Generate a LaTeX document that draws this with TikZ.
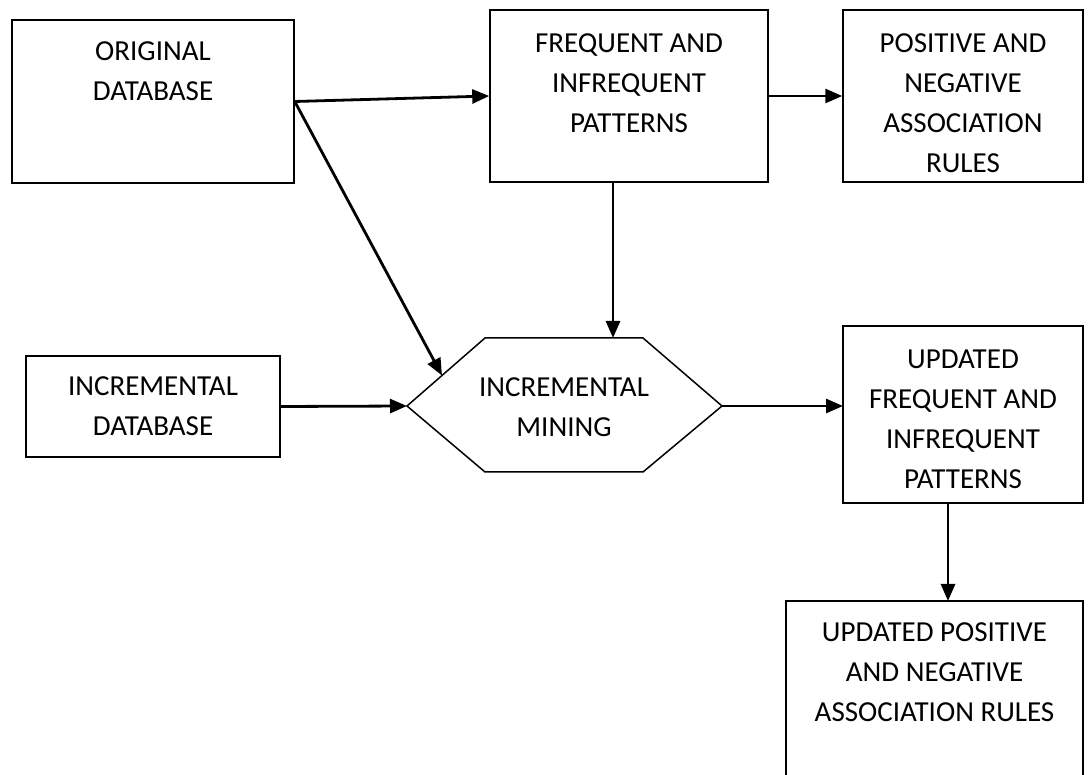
\documentclass[tikz,border=0pt]{standalone}
\usepackage{fontspec}
\setmainfont{Carlito}
\usetikzlibrary{arrows.meta}
\begin{document}
\begin{tikzpicture}[x=1pt,y=-1pt,
  box/.style={draw=black, line width=1.5pt, inner sep=0pt},
  lbl/.style={align=center, font=\fontsize{29}{40}\selectfont, inner sep=0pt},
  conn/.style={line width=2.8pt, -{Triangle[length=17pt,width=14pt]}}]
\clip (0,0) rectangle (1088,775);
\fill[white] (0,0) rectangle (1088,775);
% boxes
\node[box, minimum width=282pt, minimum height=163pt] (orig) at (153,101.5) {};
\node[lbl] (origt) at (153,71) {ORIGINAL\\DATABASE};
\node[box, minimum width=278pt, minimum height=172pt] (freq) at (629,96) {};
\node[lbl] (freqt) at (629,83) {FREQUENT AND\\INFREQUENT\\PATTERNS};
\node[box, minimum width=240pt, minimum height=172pt] (pos) at (963,96) {};
\node[lbl] (post) at (963,103) {POSITIVE AND\\NEGATIVE\\ASSOCIATION\\RULES};
\node[box, minimum width=254pt, minimum height=101pt] (incr) at (153,406.5) {};
\node[lbl] (incrt) at (153,406) {INCREMENTAL\\DATABASE};
\node[box, minimum width=240pt, minimum height=177pt] (upf) at (963,414.5) {};
\node[lbl] (upft) at (963,419) {UPDATED\\FREQUENT AND\\INFREQUENT\\PATTERNS};
\node[box, minimum width=297pt, minimum height=220pt] (upp) at (934.5,711) {};
\node[lbl] (uppt) at (934.5,672) {UPDATED POSITIVE\\AND NEGATIVE\\ASSOCIATION RULES};
% hexagon
\coordinate (hl) at (407,406);
\coordinate (htl) at (485,338);
\coordinate (htr) at (643,338);
\coordinate (hr) at (722,406);
\coordinate (hbr) at (643,472);
\coordinate (hbl) at (485,472);
\draw[line width=1.5pt, line join=miter] (hl)--(htl)--(htr)--(hr)--(hbr)--(hbl)--cycle;
\node[lbl] (hext) at (564,407) {INCREMENTAL\\MINING};
% connection points
\coordinate (htop) at (613,338);
\coordinate (hdiag) at (442,375.5);
\coordinate (freqout) at (613,182);
\coordinate (upfin) at (843,406);
\coordinate (upfout) at (948,503);
\coordinate (uppin) at (948,601);
% connectors
\draw[conn] (orig.east) -- (freq.west);
\draw[conn] (freq.east) -- (pos.west);
\draw[conn] (freqout) -- (htop);
\draw[conn] (orig.east) -- (hdiag);
\draw[conn] (incr.east) -- (hl);
\draw[conn] (hr) -- (upfin);
\draw[conn] (upfout) -- (uppin);
\end{tikzpicture}
\end{document}
